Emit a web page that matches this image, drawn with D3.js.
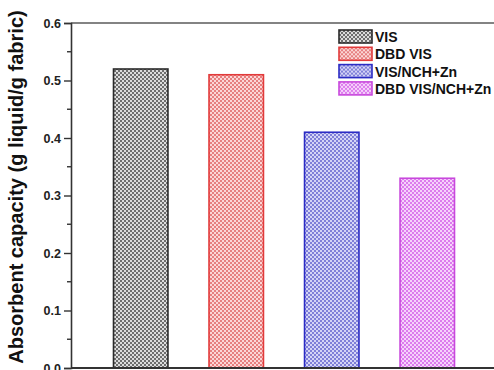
<!DOCTYPE html>
<html>
<head>
<meta charset="utf-8">
<script src="https://cdn.jsdelivr.net/npm/d3@7"></script>
<style>
  html, body { margin: 0; padding: 0; background: #fff; }
  svg { display: block; }
</style>
</head>
<body>
<svg id="chart" width="494" height="370"></svg>
<script>
// Absorbent capacity of viscose samples
const categories = ["VIS", "DBD VIS", "VIS/NCH+Zn", "DBD VIS/NCH+Zn"];
const values = [0.52, 0.51, 0.41, 0.33];
const yTicks = [0.0, 0.1, 0.2, 0.3, 0.4, 0.5, 0.6];
const strokeColors = ["#2a2a2a", "#e23a3a", "#2b2bc4", "#c848dc"];
const darkCells = ["#6e6e6e", "#e67f7f", "#7f7fd8", "#dc7ced"];
const lightCells = ["#dcdcdc", "#fbd6d6", "#d4d4f6", "#f6d2fb"];

const svg = d3.select("#chart");
const W = 494, H = 370;
const plotLeft = 71, plotTop = 23, plotBottom = 368;

const x = d3.scaleLinear().domain([0.27, 4.73]).range([plotLeft, 497]);
const y = d3.scaleLinear().domain([0, 0.6]).range([plotBottom, plotTop]);
const barW = 0.57;
const font = "Liberation Sans, Arial, sans-serif";

// checkerboard fills
const defs = svg.append("defs");
categories.forEach((c, i) => {
  const p = defs.append("pattern")
    .attr("id", "chk" + i)
    .attr("patternUnits", "userSpaceOnUse")
    .attr("width", 4).attr("height", 4);
  p.append("rect").attr("width", 4).attr("height", 4).attr("fill", lightCells[i]);
  p.append("rect").attr("x", 0).attr("y", 0).attr("width", 2).attr("height", 2).attr("fill", darkCells[i]);
  p.append("rect").attr("x", 2).attr("y", 2).attr("width", 2).attr("height", 2).attr("fill", darkCells[i]);
});

// bars
svg.append("g").selectAll("rect")
  .data(values)
  .join("rect")
  .attr("x", (d, i) => x(i + 1 - barW / 2))
  .attr("y", d => y(d))
  .attr("width", (d, i) => x(i + 1 + barW / 2) - x(i + 1 - barW / 2))
  .attr("height", d => y(0) - y(d))
  .attr("fill", (d, i) => `url(#chk${i})`)
  .attr("stroke", (d, i) => strokeColors[i])
  .attr("stroke-width", 1.6);

// top frame
svg.append("line")
  .attr("x1", plotLeft).attr("x2", W)
  .attr("y1", plotTop).attr("y2", plotTop)
  .attr("stroke", "#5a5a5a").attr("stroke-width", 1.6);

// y axis with major and minor ticks
const yAxis = d3.axisLeft(y)
  .tickValues(yTicks)
  .tickFormat(d3.format(".1f"))
  .tickSize(7)
  .tickPadding(3);
const gy = svg.append("g").attr("transform", `translate(${plotLeft},0)`).call(yAxis);
gy.select(".domain").attr("stroke", "#333").attr("stroke-width", 1.6);
gy.selectAll(".tick line").attr("stroke", "#333").attr("stroke-width", 1.4);
gy.selectAll(".tick text")
  .attr("font-family", font)
  .attr("font-weight", "bold")
  .attr("font-size", 12.5)
  .attr("fill", "#222");

const minor = d3.range(0.05, 0.6, 0.1);
svg.append("g").selectAll("line")
  .data(minor)
  .join("line")
  .attr("x1", plotLeft - 4).attr("x2", plotLeft)
  .attr("y1", d => y(d)).attr("y2", d => y(d))
  .attr("stroke", "#333").attr("stroke-width", 1.4);

// x axis baseline
svg.append("line")
  .attr("x1", plotLeft).attr("x2", W)
  .attr("y1", plotBottom).attr("y2", plotBottom)
  .attr("stroke", "#333").attr("stroke-width", 2);

// y axis title
svg.append("text")
  .attr("transform", "translate(23,187) rotate(-90)")
  .attr("text-anchor", "middle")
  .attr("font-family", font)
  .attr("font-weight", "bold")
  .attr("font-size", 20)
  .attr("fill", "#111")
  .text("Absorbent capacity (g liquid/g fabric)");

// legend
const lg = svg.append("g").attr("transform", "translate(339,30)");
const rowH = 17.3;
categories.forEach((c, i) => {
  const g = lg.append("g").attr("transform", `translate(0,${i * rowH})`);
  g.append("rect")
    .attr("width", 33).attr("height", 13)
    .attr("fill", `url(#chk${i})`)
    .attr("stroke", strokeColors[i]).attr("stroke-width", 1.6);
  g.append("text")
    .attr("x", 36).attr("y", 12)
    .attr("font-family", font)
    .attr("font-weight", "bold")
    .attr("font-size", 14)
    .attr("fill", "#111")
    .text(c);
});
</script>
</body>
</html>
